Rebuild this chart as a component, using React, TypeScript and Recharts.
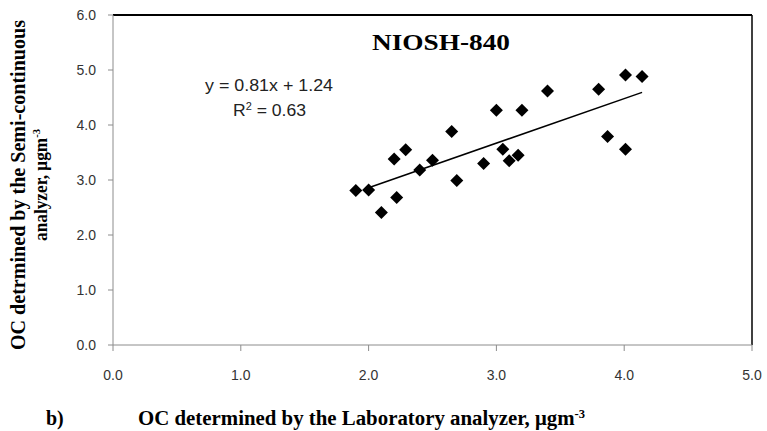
import React from "react";
import { ScatterChart, Scatter, XAxis, YAxis, ReferenceLine } from "recharts";

// NIOSH-840 comparison: laboratory vs semi-continuous OC
const labOC = [1.9, 2.0, 2.1, 2.22, 2.2, 2.29, 2.4, 2.5, 2.65, 2.69, 2.9, 3.0, 3.05, 3.1, 3.17, 3.2, 3.4, 3.8, 3.87, 4.01, 4.01, 4.14];
const semiOC = [2.81, 2.82, 2.41, 2.68, 3.38, 3.55, 3.18, 3.36, 3.88, 2.99, 3.3, 4.27, 3.56, 3.35, 3.45, 4.27, 4.62, 4.65, 3.79, 3.56, 4.91, 4.88];

const slope = 0.81;
const intercept = 1.24;
const trendX = [2.0, 4.14];
const xTicks = [0, 1, 2, 3, 4, 5];
const yTicks = [0, 1, 2, 3, 4, 5, 6];

const points = labOC.map((x, i) => ({ x, y: semiOC[i] }));
const trend = trendX.map((x) => ({ x, y: slope * x + intercept }));

const Diamond = (props: any) => {
  const { cx, cy } = props;
  const r = 6.5;
  return <polygon points={`${cx},${cy - r} ${cx + r},${cy} ${cx},${cy + r} ${cx - r},${cy}`} fill="#000" />;
};

const sans = "Liberation Sans, Arial, sans-serif";
const tickStyle = { fontSize: 14, fill: "#333", fontFamily: sans };
const serifBold = { fontFamily: "Liberation Serif, Times New Roman, serif", fontWeight: "bold" as const };

export default function App() {
  return (
    <div style={{ position: "absolute", left: 0, top: 0, width: 767, height: 431, background: "#fff" }}>
      <ScatterChart width={767} height={431} margin={{ top: 15, right: 15, bottom: 46, left: 53 }}>
        <XAxis
          type="number"
          dataKey="x"
          domain={[0, 5]}
          ticks={xTicks}
          tickFormatter={(v: number) => v.toFixed(1)}
          stroke="#8c8c8c"
          tick={tickStyle}
          tickSize={6}
          tickMargin={19}
          height={40}
        />
        <YAxis
          type="number"
          dataKey="y"
          domain={[0, 6]}
          ticks={yTicks}
          tickFormatter={(v: number) => v.toFixed(1)}
          stroke="#8c8c8c"
          tick={tickStyle}
          tickSize={5}
          tickMargin={12}
          width={60}
        />
        <ReferenceLine y={6} stroke="#000" strokeWidth={2} />
        <ReferenceLine x={5} stroke="#000" strokeWidth={1.5} />
        <Scatter data={trend} line={{ stroke: "#000", strokeWidth: 1.5 }} shape={() => null} isAnimationActive={false} />
        <Scatter data={points} shape={Diamond} isAnimationActive={false} />
      </ScatterChart>
      <svg width={767} height={431} style={{ position: "absolute", left: 0, top: 0, pointerEvents: "none" }}>
        <text x={372} y={50} fontSize={23} textLength={138} lengthAdjust="spacingAndGlyphs" {...serifBold} fill="#000">
          NIOSH-840
        </text>
        <text x={205} y={91} fontSize={16} textLength={128} lengthAdjust="spacingAndGlyphs" fontFamily={sans} fill="#222">
          y = 0.81x + 1.24
        </text>
        <text x={233} y={116} fontSize={16} textLength={73} lengthAdjust="spacingAndGlyphs" fontFamily={sans} fill="#222">
          R<tspan dy={-6} fontSize={10}>2</tspan><tspan dy={6}> = 0.63</tspan>
        </text>
        <g transform="translate(25,185) rotate(-90)">
          <text x={-165} y={0} fontSize={20} textLength={330} lengthAdjust="spacingAndGlyphs" {...serifBold} fill="#000">
            OC detrmined by the  Semi-continuous
          </text>
          <text x={-56} y={22} fontSize={18} textLength={112} lengthAdjust="spacingAndGlyphs" {...serifBold} fill="#000">
            analyzer, μgm<tspan dy={-7} fontSize={11}>-3</tspan>
          </text>
        </g>
        <text x={46} y={425} fontSize={20} {...serifBold} fill="#000">
          b)
        </text>
        <text x={138} y={425} fontSize={20} textLength={447} lengthAdjust="spacingAndGlyphs" {...serifBold} fill="#000">
          OC determined by the Laboratory analyzer, μgm<tspan dy={-7} fontSize={12}>-3</tspan>
        </text>
      </svg>
    </div>
  );
}
